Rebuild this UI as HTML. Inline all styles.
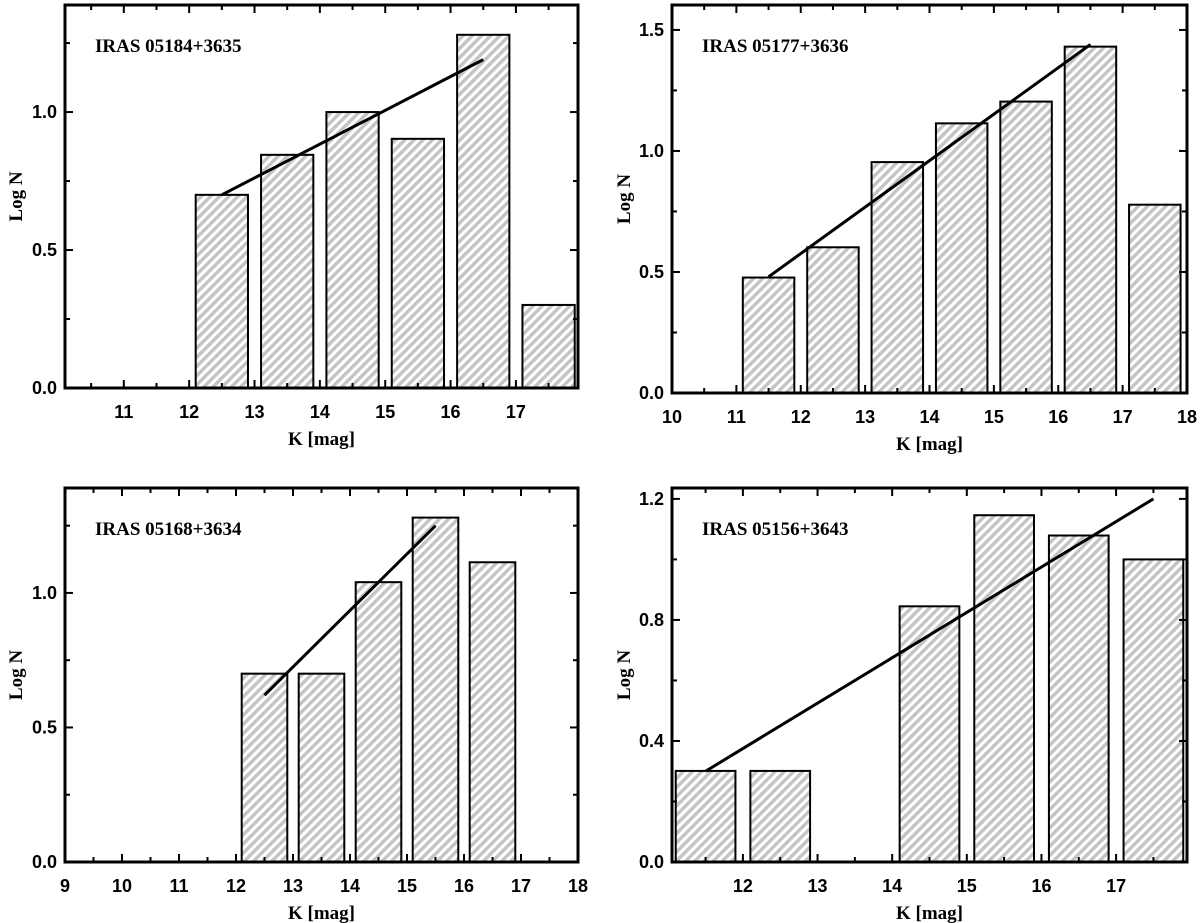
<!DOCTYPE html>
<html><head><meta charset="utf-8">
<style>html,body{margin:0;padding:0;background:#fff;}svg{display:block;}</style></head>
<body>
<svg id="fig" width="1200" height="923" xmlns="http://www.w3.org/2000/svg">
<defs>
<pattern id="hatch" patternUnits="userSpaceOnUse" width="6.5" height="6.5" patternTransform="rotate(45)">
<rect width="6.5" height="6.5" fill="#ffffff"/>
<line x1="1.7" y1="0" x2="1.7" y2="6.5" stroke="#c4c4c4" stroke-width="3.4"/>
</pattern>
</defs>
</svg>
<script>
// Panel 1
const p1Cats = [12.5, 13.5, 14.5, 15.5, 16.5, 17.5];
const p1Vals = [0.70, 0.845, 1.0, 0.903, 1.28, 0.301];
const p1Fit = [[12.5, 0.70], [16.5, 1.19]];
const p1XTicks = [11, 12, 13, 14, 15, 16, 17];
const p1YTicks = [0.0, 0.5, 1.0];
// Panel 2
const p2Cats = [11.5, 12.5, 13.5, 14.5, 15.5, 16.5, 17.5];
const p2Vals = [0.477, 0.602, 0.954, 1.114, 1.204, 1.431, 0.778];
const p2Fit = [[11.5, 0.48], [16.5, 1.44]];
const p2XTicks = [10, 11, 12, 13, 14, 15, 16, 17, 18];
const p2YTicks = [0.0, 0.5, 1.0, 1.5];
// Panel 3
const p3Cats = [12.5, 13.5, 14.5, 15.5, 16.5];
const p3Vals = [0.70, 0.70, 1.04, 1.28, 1.114];
const p3Fit = [[12.5, 0.62], [15.5, 1.25]];
const p3XTicks = [9, 10, 11, 12, 13, 14, 15, 16, 17, 18];
const p3YTicks = [0.0, 0.5, 1.0];
// Panel 4
const p4Cats = [11.5, 12.5, 14.5, 15.5, 16.5, 17.5];
const p4Vals = [0.301, 0.301, 0.845, 1.146, 1.079, 1.0];
const p4Fit = [[11.5, 0.30], [17.5, 1.20]];
const p4XTicks = [12, 13, 14, 15, 16, 17];
const p4YTicks = [0.0, 0.4, 0.8, 1.2];

const panels = [
 {name:'IRAS 05184+3635', x0:65, x1:578, y0:5, y1:388, xmin:10.1, xmax:17.95, ymin:0, ymax:1.388, cats:p1Cats, vals:p1Vals, fit:p1Fit, xt:p1XTicks, yt:p1YTicks, ylx:22},
 {name:'IRAS 05177+3636', x0:672, x1:1187, y0:5, y1:393, xmin:10, xmax:18, ymin:0, ymax:1.603, cats:p2Cats, vals:p2Vals, fit:p2Fit, xt:p2XTicks, yt:p2YTicks, ylx:630},
 {name:'IRAS 05168+3634', x0:65, x1:578, y0:488, y1:862, xmin:9, xmax:18, ymin:0, ymax:1.39, cats:p3Cats, vals:p3Vals, fit:p3Fit, xt:p3XTicks, yt:p3YTicks, ylx:22},
 {name:'IRAS 05156+3643', x0:672, x1:1187, y0:488, y1:862, xmin:11.05, xmax:17.95, ymin:0, ymax:1.236, cats:p4Cats, vals:p4Vals, fit:p4Fit, xt:p4XTicks, yt:p4YTicks, ylx:630}
];
const NS='http://www.w3.org/2000/svg';
const svg=document.getElementById('fig');
function mk(tag, attrs, parent){const e=document.createElementNS(NS,tag);for(const k in attrs)e.setAttribute(k,attrs[k]);(parent||svg).appendChild(e);return e;}
panels.forEach((p,pi)=>{
 const g=mk('g',{});
 
 
 const sx=v=>p.x0+(v-p.xmin)/(p.xmax-p.xmin)*(p.x1-p.x0);
 const sy=v=>p.y1-(v-p.ymin)/(p.ymax-p.ymin)*(p.y1-p.y0);
 p.cats.forEach((c,i)=>{
  const xa=sx(c-0.4), xb=sx(c+0.4), yt=sy(p.vals[i]);
  const r=mk('rect',{x:xa,y:yt,width:xb-xa,height:p.y1-yt,fill:'url(#hatch)',stroke:'#000','stroke-width':2},g);
  
  
 });
 const ln=mk('line',{x1:sx(p.fit[0][0]),y1:sy(p.fit[0][1]),x2:sx(p.fit[1][0]),y2:sy(p.fit[1][1]),stroke:'#000','stroke-width':3},g);
 
 
 for(let v=Math.ceil(p.xmin*2)/2; v<=p.xmax+1e-6; v+=0.5){
  const major=Math.abs(v-Math.round(v))<1e-6; const L=major?8:5; const x=sx(v);
  mk('line',{x1:x,y1:p.y1,x2:x,y2:p.y1-L,stroke:'#000','stroke-width':2},g);
  mk('line',{x1:x,y1:p.y0,x2:x,y2:p.y0+L,stroke:'#000','stroke-width':2},g);
 }
 p.xt.forEach(v=>{
  const t=mk('text',{x:sx(v),y:p.y1+30,'text-anchor':'middle','font-family':'Liberation Sans, sans-serif','font-weight':'bold','font-size':18},g);
  t.textContent=v;
  
  
 });
 const step=p.yt[1]-p.yt[0];
 for(let v=0; v<=p.ymax+1e-6; v+=step/2){
  const major=Math.abs(v/step-Math.round(v/step))<1e-6; const L=major?8:5; const y=sy(v);
  mk('line',{x1:p.x0,y1:y,x2:p.x0+L,y2:y,stroke:'#000','stroke-width':2},g);
  mk('line',{x1:p.x1,y1:y,x2:p.x1-L,y2:y,stroke:'#000','stroke-width':2},g);
 }
 p.yt.forEach(v=>{
  const t=mk('text',{x:p.x0-8,y:sy(v)+6,'text-anchor':'end','font-family':'Liberation Sans, sans-serif','font-weight':'bold','font-size':18},g);
  t.textContent=v.toFixed(1);
  
  
 });
 const fr=mk('rect',{x:p.x0,y:p.y0,width:p.x1-p.x0,height:p.y1-p.y0,fill:'none',stroke:'#000','stroke-width':3},g);
 
 
 const ti=mk('text',{x:p.x0+30,y:p.y0+47,'font-family':'Liberation Serif, serif','font-weight':'bold','font-size':19},g);
 ti.textContent=p.name;
 
 
 const xl=mk('text',{x:(p.x0+p.x1)/2,y:p.y1+57,'text-anchor':'middle','font-family':'Liberation Serif, serif','font-weight':'bold','font-size':19},g);
 xl.textContent='K [mag]';
 
 
 const cy=(p.y0+p.y1)/2;
 const yl=mk('text',{x:p.ylx,y:cy,'text-anchor':'middle','font-family':'Liberation Serif, serif','font-weight':'bold','font-size':19,transform:'rotate(-90 '+p.ylx+' '+cy+')'},g);
 yl.textContent='Log N';
 
 
});
</script>
</body></html>
